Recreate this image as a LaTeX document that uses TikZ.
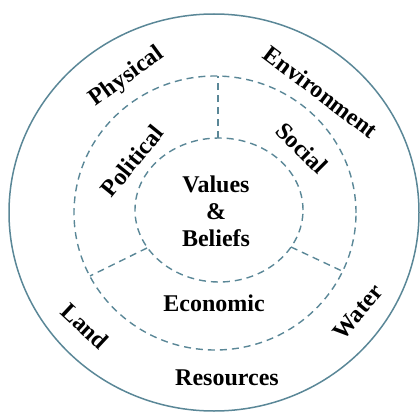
\documentclass[tikz,border=0pt]{standalone}
\usepackage{fontspec}
\setmainfont{Liberation Serif}
\definecolor{ringblue}{HTML}{5A8797}
\begin{document}
\begin{tikzpicture}[x=1pt, y=-1pt,
      ring/.style={draw=ringblue, line width=1.5pt},
      dashring/.style={draw=ringblue, line width=1.4pt, dash pattern=on 7pt off 5pt},
      word/.style={font=\fontsize{24}{27}\selectfont\bfseries, text=black, inner sep=0pt, align=center}
      ]
    \useasboundingbox (0,0) rectangle (420,412);

    \draw [ring] (214,212.5) ellipse [x radius=205pt, y radius=198.5pt];
    \draw [dashring] (215,213) ellipse [x radius=141pt, y radius=137pt];
    \draw [dashring] (219,210) ellipse [x radius=84pt, y radius=72pt];

    \coordinate (topin) at (218,138);
    \coordinate (topout) at (218,76);
    \coordinate (leftin) at (147,248);
    \coordinate (leftout) at (90,276);
    \coordinate (rightin) at (291,247);
    \coordinate (rightout) at (342,271);
    \path [dashring] (topin) -- (topout);
    \path [dashring] (leftin) -- (leftout);
    \path [dashring] (rightin) -- (rightout);

    \node [word] (core) at (216,211) {Values\\\&\\Beliefs};
    \node [word] (econ) at (214,303) {Economic};
    \node [word] (res) at (227,378) {Resources};

    \node [word, rotate=-43] (land) at (85,326) {Land};
    \node [word, rotate=50] (water) at (358,312) {Water};
    \node [word, rotate=36] (phys) at (127,77) {Physical};
    \node [word, rotate=-37] (env) at (321,92) {Environment};
    \node [word, rotate=51] (pol) at (132,161) {Political};
    \node [word, rotate=-45] (soc) at (302,148) {Social};
  \end{tikzpicture}
\end{document}
